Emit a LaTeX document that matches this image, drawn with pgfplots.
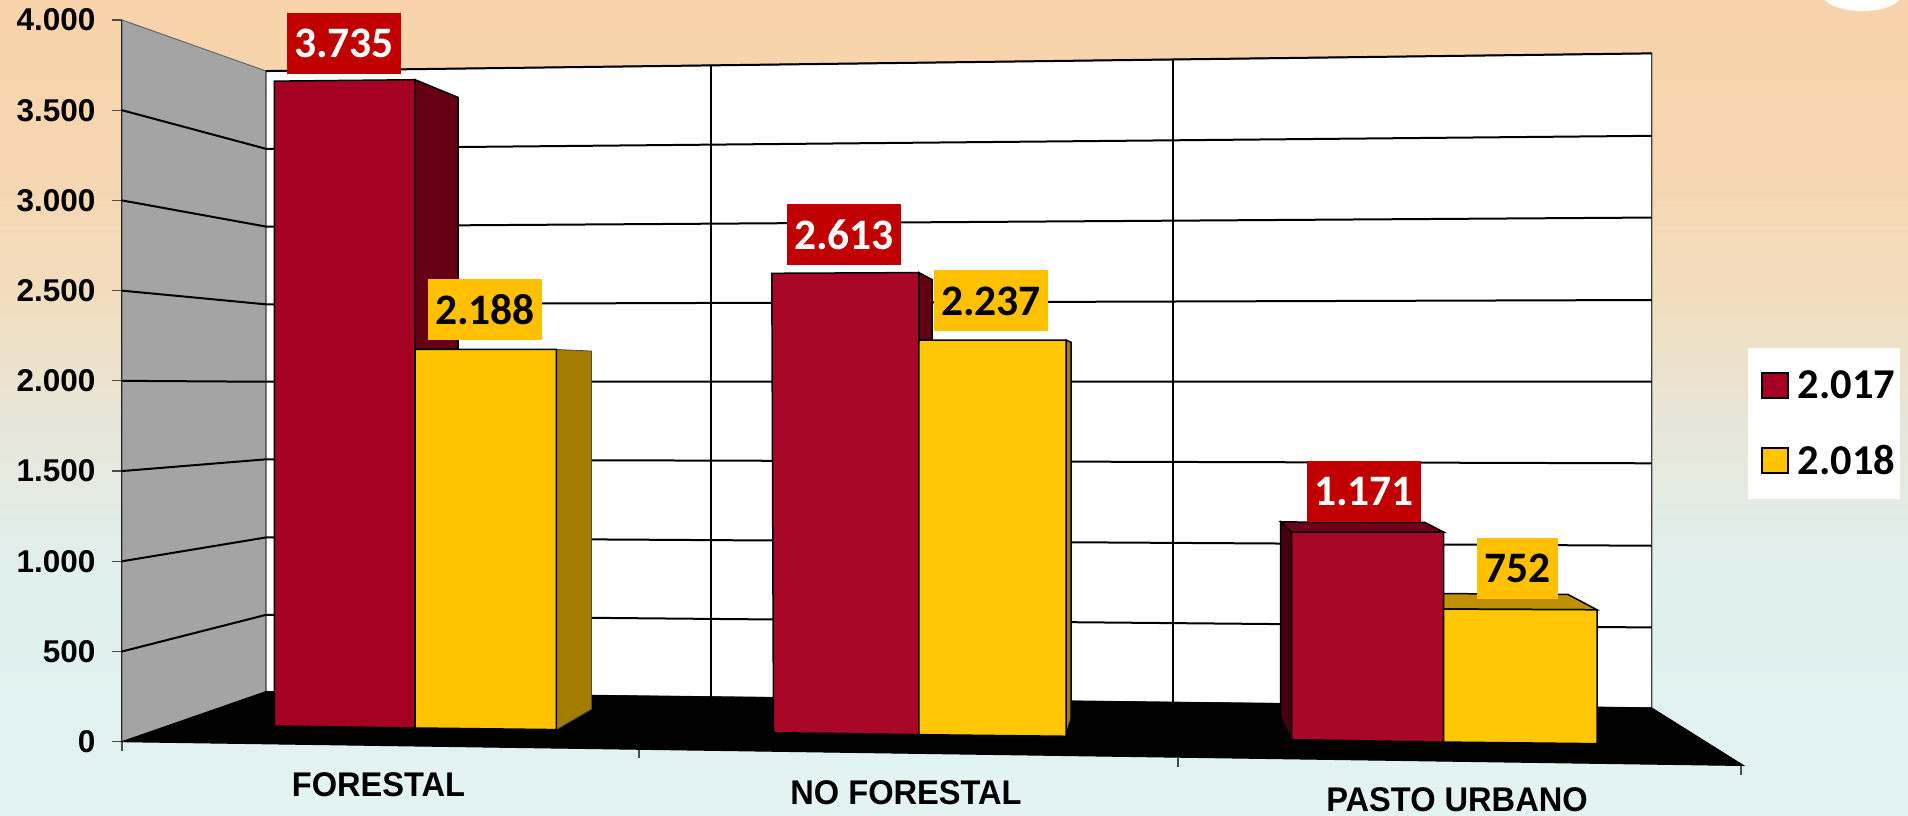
\documentclass[border=0pt]{standalone}
\usepackage{pgfplots}
\pgfplotsset{compat=1.18}
\usepackage{fontspec}
\setmainfont{Liberation Sans}
\newfontfamily\calfont{Carlito}
\definecolor{redfront}{HTML}{A50223}
\definecolor{redfrontb}{HTML}{A90727}
\definecolor{redside}{HTML}{650014}
\definecolor{redtop}{HTML}{6E0018}
\definecolor{yelfront}{HTML}{FFC300}
\definecolor{yelfrontb}{HTML}{FFC706}
\definecolor{yelside}{HTML}{A37D00}
\definecolor{yeltop}{HTML}{C09000}
\definecolor{labred}{HTML}{C00000}
\definecolor{labyel}{HTML}{FFC000}
\definecolor{wallgray}{HTML}{A4A4A4}
% the visible part of a TikZ shading runs from 25bp to 75bp
\pgfdeclareverticalshading{pagebg}{100bp}{
  rgb(0bp)=(0.890,0.953,0.953);
  rgb(25bp)=(0.890,0.953,0.953);
  rgb(32bp)=(0.886,0.949,0.949);
  rgb(40bp)=(0.875,0.941,0.933);
  rgb(49bp)=(0.910,0.902,0.847);
  rgb(57bp)=(0.945,0.867,0.745);
  rgb(65bp)=(0.965,0.840,0.690);
  rgb(75bp)=(0.976,0.827,0.667);
  rgb(100bp)=(0.976,0.827,0.667)}
\begin{document}
\begin{tikzpicture}[x=1pt,y=1pt]
\path[use as bounding box] (0,0) rectangle (1908,816);
\shade[shading=pagebg] (0,0) rectangle (1908,816);
\fill[white] (1862,822) ellipse [x radius=40, y radius=17];
\begin{axis}[
  at={(122pt,74.3pt)}, anchor=south west,
  scale only axis, width=1619pt, height=721.7pt,
  xmin=122, xmax=1741, ymin=0, ymax=4000,
  clip=false,
  axis x line=none,
  axis y line*=left,
  axis line style={draw=black,line width=1.4pt,-},
  ytick={0,500,...,4000},
  tick align=outside,
  major tick length=10pt,
  tick style={draw=black!70,line width=1.2pt},
  y tick label style={font=\fontsize{31.5}{34}\selectfont\bfseries, anchor=east, xshift=-13pt},
  /pgf/number format/assume math mode=true,
  /pgf/number format/1000 sep={.},
  scaled y ticks=false,
  grid=none,
  legend style={
    at={(axis cs:1748,2185)}, anchor=north west,
    fill=white, draw=none, inner xsep=3pt, inner ysep=21pt,
    font=\fontsize{42.5}{45}\selectfont\calfont\bfseries,
    row sep=41pt,
    /tikz/every odd column/.append style={column sep=7pt},
  },
  legend image code/.code={
    \path (-10pt,0pt);
    \draw[#1,draw=black,line width=2pt] (0pt,-12.5pt) rectangle (26pt,12.5pt);
  },
  gridl/.style={forget plot, draw=black, line width=2pt},
  poly/.style={forget plot, draw=black, line width=1.5pt},
]
% ---- walls and floor
\addplot[forget plot, fill=wallgray, draw=black!60, line width=1pt] coordinates {(122,4000)(266,3717)(266,277.5)(122,0)} -- cycle;
\addplot[forget plot, fill=white, draw=black!75, line width=1.3pt] coordinates {(266,3717)(1651.7,3815)(1651.7,187)(266,277.5)} -- cycle;
\addplot[gridl] coordinates {(266,3717)(1651.7,3815)};
% vertical gridlines on the back wall
\addplot[gridl] coordinates {(711.4,3746)(711.4,248)};
\addplot[gridl] coordinates {(1173,3776)(1173,216)};
% gridlines: front axis, corner, back right
\addplot[gridl] coordinates {(122,3500)(266,3286)(1651.7,3358)};
\addplot[gridl] coordinates {(122,3000)(266,2855)(1651.7,2905)};
\addplot[gridl] coordinates {(122,2500)(266,2424)(1651.7,2448)};
\addplot[gridl] coordinates {(122,2000)(266,1995)(1651.7,1996)};
\addplot[gridl] coordinates {(122,1500)(266,1565)(1651.7,1543)};
\addplot[gridl] coordinates {(122,1000)(266,1132)(1651.7,1086)};
\addplot[gridl] coordinates {(122,500)(266,703)(1651.7,633)};
\addplot[forget plot, fill=black, draw=black, line width=1pt] coordinates {(122,0)(266,277.5)(1651.7,187)(1743.5,-132)} -- cycle;
% category ticks below the front floor edge
\addplot[forget plot, draw=black!70, line width=1.2pt] coordinates {(122,0)(122,-52)};
\addplot[forget plot, draw=black!70, line width=1.2pt] coordinates {(639,-46)(639,-90)};
\addplot[forget plot, draw=black!70, line width=1.2pt] coordinates {(1178,-93)(1178,-140)};
\addplot[forget plot, draw=black!70, line width=1.2pt] coordinates {(1741,-135)(1741,-185)};
% ---- FORESTAL
\addplot[poly, fill=redside] coordinates {(415,3669)(458,3571)(458,2174)(415,2174)} -- cycle;
\addplot[draw=black, line width=1.5pt, fill=redfront] coordinates {(274.3,3661)(415,3669)(415,76)(274.3,87)} -- cycle;
\addlegendentry{2.017}
\addplot[forget plot, draw=black!70, line width=.8pt, fill=yelside] coordinates {(556.3,2174)(591.4,2165)(591.4,180)(556.3,67)} -- cycle;
\addplot[draw=black, line width=1.5pt, fill=yelfront] coordinates {(415,2174)(556.3,2174)(556.3,67)(415,76)} -- cycle;
\addlegendentry{2.018}
% ---- NO FORESTAL
\addplot[poly, fill=redside] coordinates {(918.8,2600)(932,2561)(932,2229)(918.8,2229)} -- cycle;
\addplot[poly, fill=redfrontb] coordinates {(771.8,2596)(918.8,2600)(918.8,39)(773.5,50)} -- cycle;
\addplot[poly, fill=yelside] coordinates {(1066,2226)(1071,2214)(1071,126)(1066,30)} -- cycle;
\addplot[poly, fill=yelfrontb] coordinates {(918.8,2226)(1066,2226)(1066,30)(918.8,39)} -- cycle;
% ---- PASTO URBANO
\addplot[poly, fill=redside!70!black] coordinates {(1280.7,1218)(1291.7,1162)(1291.7,11)(1280.7,133)} -- cycle;
\addplot[poly, fill=redtop] coordinates {(1280.7,1218)(1425,1215)(1443.5,1162)(1291.7,1162)} -- cycle;
\addplot[poly, fill=redfrontb] coordinates {(1291.7,1162)(1443.5,1162)(1443.5,-2)(1291.7,11)} -- cycle;
\addplot[poly, fill=yeltop] coordinates {(1443.5,821)(1568,816)(1597,731)(1443.5,735)} -- cycle;
\addplot[poly, fill=yelfrontb] coordinates {(1443.5,735)(1597,731)(1597,-11)(1443.5,-2)} -- cycle;
% ---- value labels
\tikzset{vlab/.style={inner sep=0pt, minimum width=114pt, minimum height=61pt, font=\fontsize{43.5}{45}\selectfont\calfont\bfseries}}
\node[vlab, fill=labred, text=white] at (axis cs:344,3869) {3.735};
\node[vlab, fill=labyel, text=black] at (axis cs:485,2393) {2.188};
\node[vlab, fill=labred, text=white] at (axis cs:844,2809) {2.613};
\node[vlab, fill=labyel, text=black] at (axis cs:991,2443) {2.237};
\node[vlab, fill=labred, text=white] at (axis cs:1364,1386) {1.171};
\node[vlab, fill=labyel, text=black, minimum width=81pt] at (axis cs:1517.5,958) {752};
% ---- category labels
\tikzset{clab/.style={inner sep=0pt, font=\fontsize{32.6}{36}\selectfont\bfseries}}
\node[clab] at (axis cs:378.5,-240) {\scalebox{1}[1.05]{FORESTAL}};
\node[clab] at (axis cs:906,-285) {\scalebox{1}[1.05]{NO FORESTAL}};
\node[clab] at (axis cs:1457,-322) {\scalebox{1}[1.05]{PASTO URBANO}};
\end{axis}
\end{tikzpicture}
\end{document}
